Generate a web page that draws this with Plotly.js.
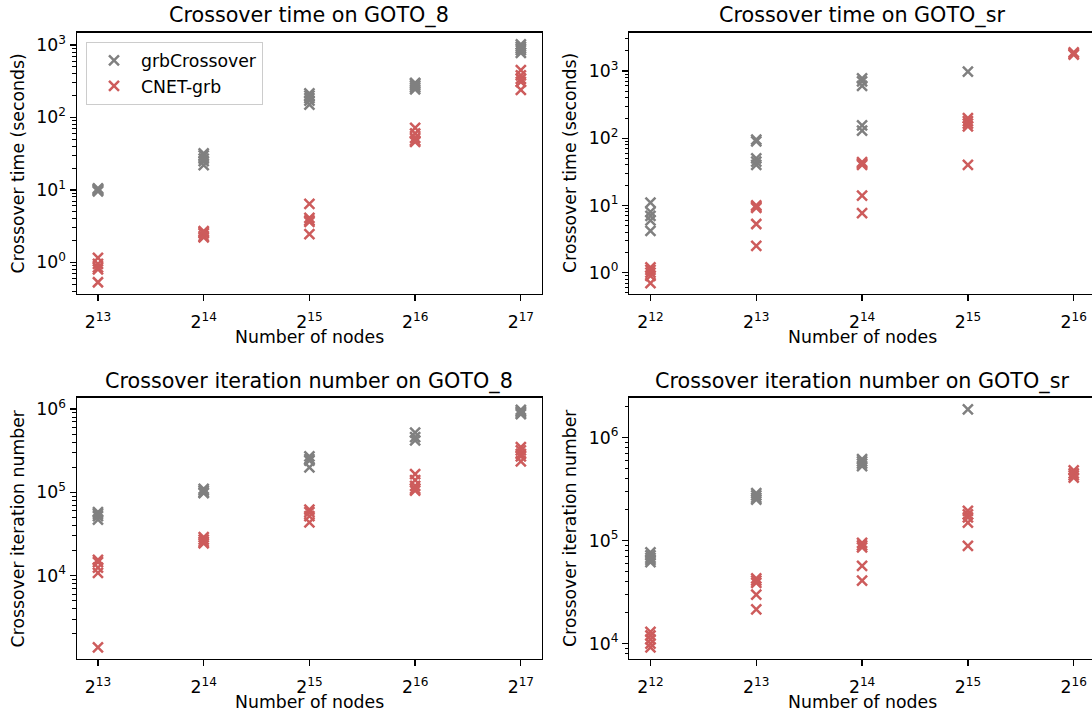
<!DOCTYPE html>
<html>
<head>
<meta charset="utf-8">
<script src="https://cdn.plot.ly/plotly-3.0.1.min.js"></script>
<style>html,body{margin:0;padding:0;background:#fff}#chart{width:1092px;height:717px}</style>
</head>
<body>
<div id="chart"></div>
<script>
// ---- data ----
const nodesGoto8 = [8192, 16384, 32768, 65536, 131072];
const nodesGotoSr = [4096, 8192, 16384, 32768, 65536];
const xTickGoto8 = ['2<sup>13</sup>','2<sup>14</sup>','2<sup>15</sup>','2<sup>16</sup>','2<sup>17</sup>'];
const xTickGotoSr = ['2<sup>12</sup>','2<sup>13</sup>','2<sup>14</sup>','2<sup>15</sup>','2<sup>16</sup>'];

// Crossover time on GOTO_8 (seconds), one list per node count
const timeGoto8Grb = [[9.5, 10, 10.5, 9.8, 10.2], [22, 25, 27, 30, 32], [150, 170, 185, 200, 215], [245, 260, 275, 290, 300], [780, 850, 900, 950, 1020]];
const timeGoto8Cnet = [[1.15, 0.95, 0.85, 0.8, 0.53], [2.2, 2.3, 2.5, 2.6, 2.7], [6.4, 4.1, 3.8, 3.6, 2.45], [72, 60, 52, 48, 46], [450, 380, 340, 310, 240]];
// Crossover time on GOTO_sr (seconds)
const timeGotoSrGrb = [[11, 8, 7, 6, 4.2], [95, 90, 50, 45, 40], [780, 700, 600, 155, 130], [980], []];
const timeGotoSrCnet = [[1.2, 1.1, 1.0, 0.9, 0.7], [10, 9.5, 9.2, 5.3, 2.5], [44, 42, 40, 14, 7.7], [200, 180, 165, 150, 40], [1900, 1800, 1750]];
// Crossover iteration number on GOTO_8
const iterGoto8Grb = [[58000, 55000, 52000, 47000], [110000, 105000, 100000, 98000], [270000, 250000, 240000, 200000], [520000, 460000, 420000], [980000, 940000, 900000, 870000]];
const iterGoto8Cnet = [[15500, 14500, 12500, 10800, 1380], [29000, 27000, 25500, 24500], [62000, 58000, 52000, 43500], [165000, 140000, 120000, 110000, 105000], [350000, 320000, 290000, 270000, 235000]];
// Crossover iteration number on GOTO_sr
const iterGotoSrGrb = [[77000, 72000, 68000, 65000, 62000], [290000, 275000, 260000, 250000], [620000, 590000, 560000, 530000], [1880000], []];
const iterGotoSrCnet = [[13000, 12000, 11000, 10000, 9200], [43000, 41000, 39000, 30000, 21500], [95000, 90000, 86000, 57000, 41000], [195000, 180000, 168000, 150000, 89000], [480000, 450000, 430000, 410000]];

const seriesNames = ['grbCrossover', 'CNET-grb'];
const seriesColors = ['#808080', '#cd5c5c'];

// ---- build ----
function flatten(nodes, groups) {
  const x = [], y = [];
  groups.forEach((g, i) => g.forEach(v => { x.push(nodes[i]); y.push(v); }));
  return {x, y};
}
function mk(nodes, groups, s, axis, showlegend) {
  const d = flatten(nodes, groups);
  return {
    type: 'scatter', mode: 'markers', x: d.x, y: d.y,
    xaxis: 'x' + axis, yaxis: 'y' + axis,
    name: seriesNames[s], showlegend: showlegend, hoverinfo: 'x+y',
    marker: {symbol: 'x-thin', size: 10, color: seriesColors[s], line: {color: seriesColors[s], width: 2.5}}
  };
}
const traces = [
  mk(nodesGoto8, timeGoto8Grb, 0, '', true), mk(nodesGoto8, timeGoto8Cnet, 1, '', true),
  mk(nodesGotoSr, timeGotoSrGrb, 0, '2', false), mk(nodesGotoSr, timeGotoSrCnet, 1, '2', false),
  mk(nodesGoto8, iterGoto8Grb, 0, '3', false), mk(nodesGoto8, iterGoto8Cnet, 1, '3', false),
  mk(nodesGotoSr, iterGotoSrGrb, 0, '4', false), mk(nodesGotoSr, iterGotoSrCnet, 1, '4', false)
];

const W = 1092, H = 717;
const L2 = Math.log10(2);
const FONT = 'DejaVu Sans, sans-serif';
function minorVals(lo, hi) { const v = []; for (let e = lo; e <= hi; e++) for (let m = 2; m <= 9; m++) v.push(m * Math.pow(10, e)); return v; }
function pow10Labels(lo, hi) { const vals = [], txt = []; for (let e = lo; e <= hi; e++) { vals.push(Math.pow(10, e)); txt.push('10<sup>' + e + '</sup>'); } return {vals, txt}; }

function xax(domainPx, rangeLog2, nodes, ticks, yAnchor, mirror) {
  return {
    domain: [domainPx[0] / W, domainPx[1] / W], anchor: yAnchor, type: 'log',
    range: [rangeLog2[0] * L2, rangeLog2[1] * L2],
    tickmode: 'array', tickvals: nodes, ticktext: ticks,
    showgrid: false, zeroline: false, showline: true, linecolor: '#000', linewidth: 1.3, mirror: mirror,
    ticks: 'outside', ticklen: 6, tickwidth: 1.3, tickcolor: '#000', ticklabelstandoff: 6,
    tickfont: {family: FONT, size: 17.3, color: '#000'}, fixedrange: true
  };
}
function yax(domainPx, rangeLog, eLo, eHi, xAnchor, mirror) {
  const t = pow10Labels(eLo, eHi);
  return {
    domain: [1 - domainPx[1] / H, 1 - domainPx[0] / H], anchor: xAnchor, type: 'log',
    range: rangeLog, tickmode: 'array', tickvals: t.vals, ticktext: t.txt,
    minor: {tickmode: 'array', tickvals: minorVals(eLo - 1, eHi), ticks: 'outside', ticklen: 3.5, tickwidth: 1, tickcolor: '#000', showgrid: false},
    showgrid: false, zeroline: false, showline: true, linecolor: '#000', linewidth: 1.3, mirror: mirror,
    ticks: 'outside', ticklen: 6, tickwidth: 1.3, tickcolor: '#000',
    tickfont: {family: FONT, size: 17.3, color: '#000'}, fixedrange: true
  };
}

const leftX = [76.8, 542], rightX = [629.3, 1092];
const topY = [32.7, 294], botY = [397.7, 659];
const rightCenter = 862;

function ann(text, xpx, ypx, size, opts) {
  return Object.assign({text: text, xref: 'paper', yref: 'paper', x: xpx / W, y: 1 - ypx / H,
    showarrow: false, font: {family: FONT, size: size, color: '#000'}, xanchor: 'center', yanchor: 'middle'}, opts || {});
}

const layout = {
  width: W, height: H, margin: {l: 0, r: 0, t: 0, b: 0}, paper_bgcolor: '#fff', plot_bgcolor: '#fff',
  font: {family: FONT, color: '#000'},
  xaxis: xax(leftX, [12.8, 17.2], nodesGoto8, xTickGoto8, 'y', true),
  yaxis: yax(topY, [-0.438, 3.17], 0, 3, 'x', true),
  xaxis2: xax(rightX, [11.8, 16.173], nodesGotoSr, xTickGotoSr, 'y2', true),
  yaxis2: yax(topY, [-0.317, 3.57], 0, 3, 'x2', false),
  xaxis3: xax(leftX, [12.8, 17.2], nodesGoto8, xTickGoto8, 'y3', true),
  yaxis3: yax(botY, [3.0, 6.136], 4, 6, 'x3', true),
  xaxis4: xax(rightX, [11.8, 16.173], nodesGotoSr, xTickGotoSr, 'y4', true),
  yaxis4: yax(botY, [3.851, 6.388], 4, 6, 'x4', false),
  showlegend: true,
  legend: {x: 86 / W, y: 1 - 41.7 / H, xanchor: 'left', yanchor: 'top', bgcolor: 'rgba(255,255,255,0.8)',
    bordercolor: '#cccccc', borderwidth: 1, font: {family: FONT, size: 17.3, color: '#000'}, tracegroupgap: 0,
    itemwidth: 44},
  annotations: [
    ann('Crossover time on GOTO_8', 309.4, 16, 20.7),
    ann('Crossover time on GOTO_sr', rightCenter, 16, 20.7),
    ann('Crossover iteration number on GOTO_8', 309.4, 381, 20.7),
    ann('Crossover iteration number on GOTO_sr', rightCenter, 381, 20.7),
    ann('Number of nodes', 309.4, 337, 17.3),
    ann('Number of nodes', rightCenter, 337, 17.3),
    ann('Number of nodes', 309.4, 702, 17.3),
    ann('Number of nodes', rightCenter, 702, 17.3),
    ann('Crossover time (seconds)', 18, 163.4, 17.3, {textangle: -90}),
    ann('Crossover time (seconds)', 570.5, 163.4, 17.3, {textangle: -90}),
    ann('Crossover iteration number', 18, 528.4, 17.3, {textangle: -90}),
    ann('Crossover iteration number', 570.5, 528.4, 17.3, {textangle: -90})
  ]
};

Plotly.newPlot('chart', traces, layout, {staticPlot: true, displayModeBar: false});
</script>
</body>
</html>
